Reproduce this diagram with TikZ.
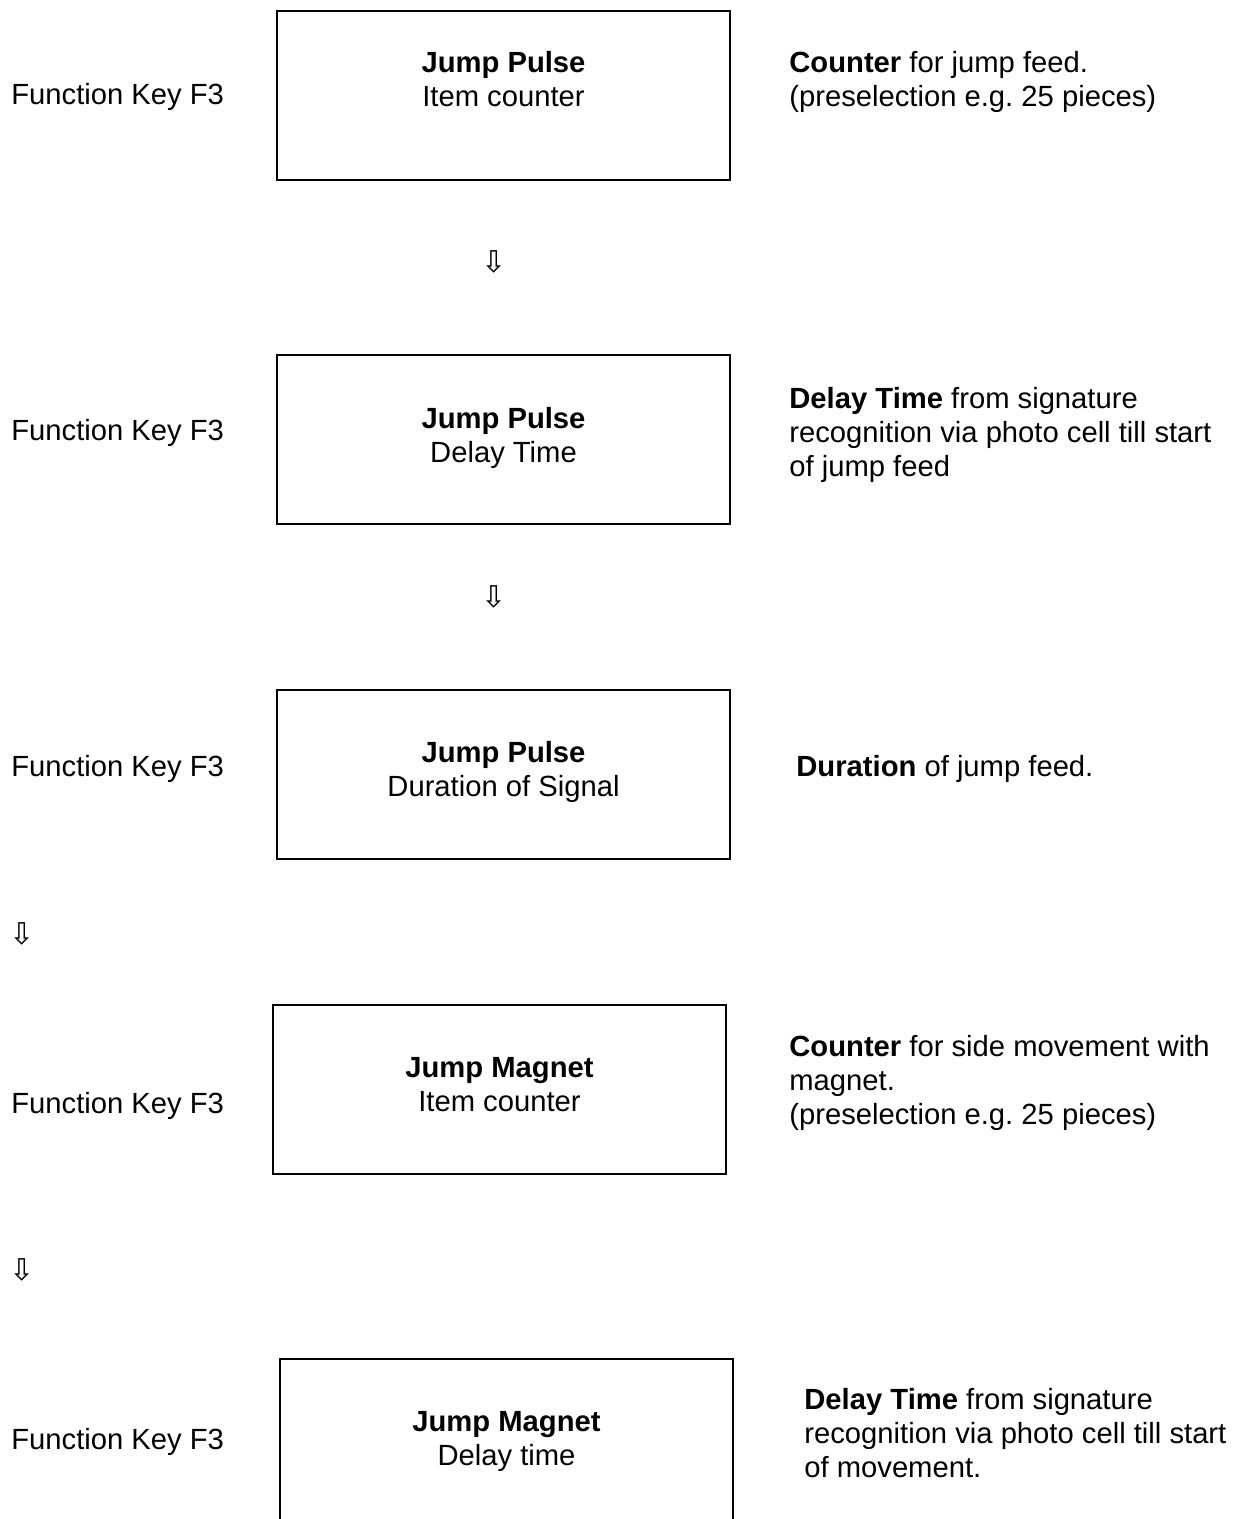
\documentclass[tikz,border=0pt]{standalone}
\usepackage{fontspec}
\setmainfont{Liberation Sans}
\newfontfamily\arrowfont{DejaVu Sans}
\frenchspacing
\begin{document}
\begin{tikzpicture}[x=0.5pt,y=-0.5pt,
  txt/.style={font=\fontsize{14.6}{17}\selectfont, inner sep=0pt},
  lbl/.style={txt, anchor=base west},
  desc/.style={txt, anchor=base west},
  boxtxt/.style={txt, anchor=base},
  panel/.style={draw, line width=1pt, minimum width=226.5pt, minimum height=84.5pt, inner sep=0pt},
  arr/.style={font=\arrowfont\fontsize{15}{18}\selectfont, inner sep=0pt}]
\useasboundingbox (0,0) rectangle (1239,1519);
\clip (0,0) rectangle (1239,1519);

% row 1
\node[lbl] (l1) at (11,104.5) {Function Key F3};
\node[panel] (b1) at (503.5,95.5) {};
\node[boxtxt] (t1) at (503.5,72.5) {\begin{tabular}[t]{@{}c@{}}\textbf{Jump Pulse}\\Item counter\end{tabular}};
\node[desc] (d1) at (789,72.5) {\begin{tabular}[t]{@{}l@{}}\textbf{Counter} for jump feed.\\(preselection e.g. 25 pieces)\end{tabular}};
\node[arr] (a1) at (494,262) {⇩};

% row 2
\node[lbl] (l2) at (11,440.5) {Function Key F3};
\node[panel] (b2) at (503.5,439.5) {};
\node[boxtxt] (t2) at (503.5,428.5) {\begin{tabular}[t]{@{}c@{}}\textbf{Jump Pulse}\\Delay Time\end{tabular}};
\node[desc] (d2) at (789,408.5) {\begin{tabular}[t]{@{}l@{}}\textbf{Delay Time} from signature\\recognition via photo cell till start\\of jump feed\end{tabular}};
\node[arr] (a2) at (494,597) {⇩};

% row 3
\node[lbl] (l3) at (11,776.5) {Function Key F3};
\node[panel] (b3) at (503.5,774) {};
\node[boxtxt] (t3) at (503.5,762.5) {\begin{tabular}[t]{@{}c@{}}\textbf{Jump Pulse}\\Duration of Signal\end{tabular}};
\node[desc] (d3) at (796,776.5) {\textbf{Duration} of jump feed.};
\node[arr] (a3) at (22,934) {⇩};

% row 4
\node[lbl] (l4) at (11,1113.5) {Function Key F3};
\node[panel] (b4) at (499.5,1089) {};
\node[boxtxt] (t4) at (499.5,1077.5) {\begin{tabular}[t]{@{}c@{}}\textbf{Jump Magnet}\\Item counter\end{tabular}};
\node[desc] (d4) at (789,1056.5) {\begin{tabular}[t]{@{}l@{}}\textbf{Counter} for side movement with\\magnet.\\(preselection e.g. 25 pieces)\end{tabular}};
\node[arr] (a4) at (22,1270) {⇩};

% row 5
\node[lbl] (l5) at (11,1449.5) {Function Key F3};
\node[panel] (b5) at (506.5,1443.5) {};
\node[boxtxt] (t5) at (506.5,1431.5) {\begin{tabular}[t]{@{}c@{}}\textbf{Jump Magnet}\\Delay time\end{tabular}};
\node[desc] (d5) at (804,1409.5) {\begin{tabular}[t]{@{}l@{}}\textbf{Delay Time} from signature\\recognition via photo cell till start\\of movement.\end{tabular}};
\end{tikzpicture}
\end{document}
